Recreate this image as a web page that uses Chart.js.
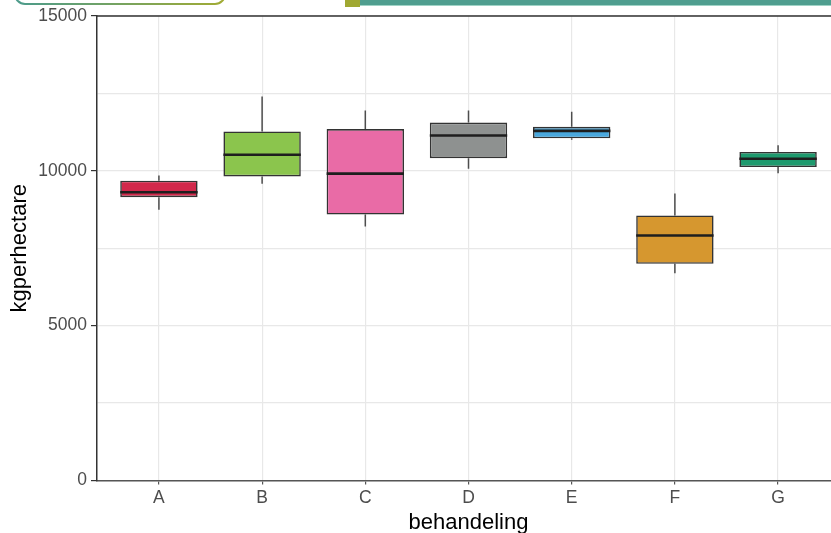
<!DOCTYPE html>
<html>
<head>
<meta charset="utf-8">
<script src="https://cdn.jsdelivr.net/npm/chart.js@4"></script>
<style>
  html, body { margin: 0; padding: 0; background: #fff; overflow: hidden; }
  #wrap { position: relative; width: 840px; height: 540px; }
  .pill { position: absolute; left: 14px; top: -30px; width: 212px; height: 35px; border-radius: 11px;
          background: linear-gradient(90deg, #4b9b8c, #a2ab33); }
  .pill div { position: absolute; left: 2px; top: 2px; right: 2px; bottom: 2px; border-radius: 9px; background: #fff; }
  .sq { position: absolute; left: 345px; top: 0; width: 15px; height: 7px; background: #a0a832; }
  .band { position: absolute; left: 360px; top: 0; width: 480px; height: 5px; background: #4f9e8f;
          border-bottom: 1px solid #9fd3c6; }
</style>
</head>
<body>
<div id="wrap">
  <canvas id="box" width="840" height="540"></canvas>
  <div class="pill"><div></div></div>
  <div class="sq"></div>
  <div class="band"></div>
</div>
<script>
// Boxplot: kgperhectare per behandeling
const categories = ["A", "B", "C", "D", "E", "F", "G"];
const mins    = [8740, 9580, 8200, 10070, 11000, 6690, 9920];
const q1s     = [9150, 9820, 8590, 10410, 11050, 7000, 10120];
const medians = [9310, 10520, 9910, 11140, 11290, 7910, 10390];
const q3s     = [9680, 11270, 11350, 11560, 11420, 8560, 10610];
const maxs    = [9850, 12400, 11950, 11950, 11910, 9270, 10830];
const colors  = ["#d2284b", "#8bc54d", "#e96ba6", "#8e9190", "#4aa8dd", "#d6972f", "#1e9a6e"];
const yTicks  = [0, 2500, 5000, 7500, 10000, 12500, 15000];

const whiskers = {
  id: "whiskers",
  beforeDatasetsDraw(chart) {
    const { ctx, scales: { x, y } } = chart;
    ctx.save();
    ctx.strokeStyle = "#4d4d4d";
    ctx.lineWidth = 1.5;
    categories.forEach((c, i) => {
      const px = x.getPixelForValue(i + 1);
      ctx.beginPath();
      ctx.moveTo(px, y.getPixelForValue(mins[i]));
      ctx.lineTo(px, y.getPixelForValue(q1s[i]));
      ctx.moveTo(px, y.getPixelForValue(q3s[i]));
      ctx.lineTo(px, y.getPixelForValue(maxs[i]));
      ctx.stroke();
    });
    ctx.restore();
  },
  afterDatasetsDraw(chart) {
    const { ctx, scales: { x, y } } = chart;
    const meta = chart.getDatasetMeta(0);
    ctx.save();
    ctx.strokeStyle = "#1e1e1e";
    ctx.lineWidth = 2.6;
    categories.forEach((c, i) => {
      const px = x.getPixelForValue(i + 1);
      const half = meta.data[i].width / 2;
      const py = y.getPixelForValue(medians[i]);
      ctx.beginPath();
      ctx.moveTo(px - half, py);
      ctx.lineTo(px + half, py);
      ctx.stroke();
    });
    ctx.restore();
  },
  afterDraw(chart) {
    // top panel line
    const { ctx, chartArea } = chart;
    ctx.save();
    ctx.strokeStyle = "#333";
    ctx.lineWidth = 1.5;
    ctx.beginPath();
    ctx.moveTo(chartArea.left, chartArea.top);
    ctx.lineTo(chartArea.right, chartArea.top);
    ctx.stroke();
    ctx.restore();
  }
};

new Chart(document.getElementById("box"), {
  type: "bar",
  data: {
    datasets: [
      {
        data: categories.map((c, i) => ({ x: i + 1, y: [q1s[i], q3s[i]] })),
        backgroundColor: colors,
        borderColor: "#333",
        borderWidth: 1.6,
        borderSkipped: false,
        barPercentage: 0.75,
        categoryPercentage: 1,
      },
    ],
  },
  options: {
    responsive: false,
    animation: false,
    devicePixelRatio: 1,
    layout: { padding: { top: 16, left: 0, right: 0, bottom: 0 } },
    plugins: { legend: { display: false }, tooltip: { enabled: false } },
    scales: {
      x: {
        type: "linear",
        min: 0.4,
        max: 7.6,
        offset: false,
        afterFit: (s) => { s.height = 59.5; },
        afterBuildTicks: (s) => { s.ticks = categories.map((c, i) => ({ value: i + 1 })); },
        grid: { offset: false, color: "#e8e8e8", lineWidth: 1.2, tickLength: 4, tickColor: "#555" },
        border: { color: "#555", width: 1.5 },
        ticks: {
          color: "#4d4d4d",
          padding: 3,
          maxRotation: 0,
          font: { family: "Liberation Sans", size: 17.5 },
          callback: (v) => categories[v - 1] || "",
        },
        title: {
          display: true,
          text: "behandeling",
          color: "#000",
          padding: { top: 0, bottom: 3.4 },
          font: { family: "Liberation Sans", size: 22 },
        },
      },
      y: {
        min: 0,
        max: 15000,
        afterFit: (s) => { s.width = 97; },
        afterBuildTicks: (s) => { s.ticks = yTicks.map((v) => ({ value: v })); },
        grid: {
          color: "#e8e8e8",
          lineWidth: 1.2,
          tickLength: 6,
          tickColor: (ctx) => (ctx.tick && ctx.tick.value % 5000 ? "rgba(0,0,0,0)" : "#333"),
        },
        border: { color: "#333", width: 1.5 },
        ticks: {
          color: "#4d4d4d",
          padding: 4,
          font: { family: "Liberation Sans", size: 17.5 },
          callback: (v) => (v % 5000 === 0 ? String(v) : ""),
        },
        title: {
          display: true,
          text: "kgperhectare",
          color: "#000",
          padding: { top: 7, bottom: 0 },
          font: { family: "Liberation Sans", size: 22 },
        },
      },
    },
  },
  plugins: [whiskers],
});
</script>
</body>
</html>
